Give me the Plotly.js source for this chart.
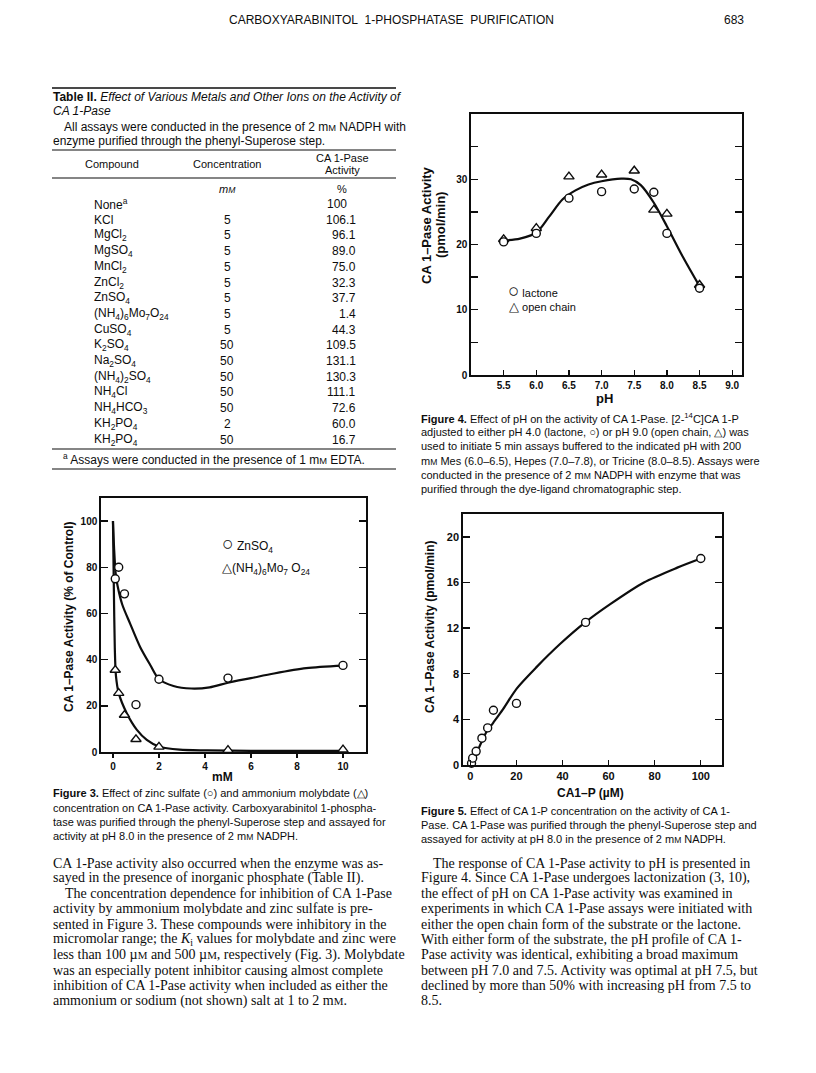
<!DOCTYPE html>
<html><head><meta charset="utf-8">
<script src="https://cdn.plot.ly/plotly-3.0.1.min.js"></script>
<style>html,body{margin:0;padding:0;background:#fff}</style>
</head><body><div id="page" style="width:816px;height:1073px"></div>
<script>
// ---------------- DATA ----------------
// Table II
const compounds = ['None<sup>a</sup>','KCl','MgCl<sub>2</sub>','MgSO<sub>4</sub>','MnCl<sub>2</sub>','ZnCl<sub>2</sub>','ZnSO<sub>4</sub>',
  '(NH<sub>4</sub>)<sub>6</sub>Mo<sub>7</sub>O<sub>24</sub>','CuSO<sub>4</sub>','K<sub>2</sub>SO<sub>4</sub>','Na<sub>2</sub>SO<sub>4</sub>',
  '(NH<sub>4</sub>)<sub>2</sub>SO<sub>4</sub>','NH<sub>4</sub>Cl','NH<sub>4</sub>HCO<sub>3</sub>','KH<sub>2</sub>PO<sub>4</sub>','KH<sub>2</sub>PO<sub>4</sub>'];
const concentrations = ['','5','5','5','5','5','5','5','5','50','50','50','50','50','2','50'];
const activities = ['100','106.1','96.1','89.0','75.0','32.3','37.7','1.4','44.3','109.5','131.1','130.3','111.1','72.6','60.0','16.7'];

// Figure 3: inhibition by ZnSO4 and ammonium molybdate
const fig3_mM = [0.1, 0.25, 0.5, 1, 2, 5, 10];
const fig3_zn = [75, 80, 68.5, 20.5, 31.5, 32, 37.5];
const fig3_mo = [35.5, 25.5, 16, 5.5, 2.2, 0.8, 1.0];
const fig3_znCurveX = [0, 0.05, 0.12, 0.2, 0.4, 0.75, 1.18, 1.62, 2.0, 2.63, 3.4, 4.2, 5.0, 6.0, 7.0, 8.4, 10];
const fig3_znCurveY = [100, 88, 77, 72, 64, 55.5, 45.5, 37.7, 31.5, 28.6, 27.5, 28, 30, 32, 34, 36.3, 37.4];
const fig3_moCurveX = [0, 0.04, 0.08, 0.13, 0.25, 0.6, 1.04, 1.47, 2.0, 2.9, 4.1, 6, 8, 10];
const fig3_moCurveY = [100, 70, 45, 33, 25.5, 16.8, 9.6, 5.3, 2.4, 1.0, 0.7, 0.5, 0.5, 0.5];

// Figure 4: pH profile
const fig4_pH = [5.5, 6.0, 6.5, 7.0, 7.5, 7.8, 8.0, 8.5];
const fig4_lactone = [20.4, 21.7, 27.1, 28.1, 28.5, 28.0, 21.7, 13.3];
const fig4_openChain = [20.8, 22.5, 30.4, 30.7, 31.3, 25.3, 24.7, 13.8];
const fig4_curveX = [5.5, 5.75, 6.0, 6.2, 6.4, 6.6, 6.8, 7.0, 7.3, 7.45, 7.6, 7.8, 8.0, 8.25, 8.5];
const fig4_curveY = [20.6, 20.9, 21.8, 24.3, 26.9, 28.3, 29.2, 29.7, 30.1, 30.0, 29.1, 26.4, 22.8, 18.0, 13.6];
const fig4_xTicks = [5.5, 6.0, 6.5, 7.0, 7.5, 8.0, 8.5, 9.0];
const fig4_xTickText = ['5.5','6.0','6.5','7.0','7.5','8.0','8.5','9.0'];
const fig4_yTicks = [0, 5, 10, 15, 20, 25, 30, 35];
const fig4_yTickText = ['0','','10','','20','','30',''];

// Figure 5: CA 1-P concentration
const fig5_ca1p = [0.5, 1, 2.5, 5, 7.5, 10, 20, 50, 100];
const fig5_act = [0.15, 0.6, 1.2, 2.35, 3.25, 4.8, 5.4, 12.5, 18.1];
const fig5_curveX = [0.5, 2.6, 4.8, 7.0, 9.9, 14.2, 20.1, 28.8, 38.9, 49.8, 60.7, 75.3, 89.8, 100];
const fig5_curveY = [0.15, 1.0, 2.0, 2.9, 3.7, 4.9, 6.7, 8.6, 10.6, 12.5, 14.1, 16.0, 17.3, 18.1];

// ---------------- TEXT ----------------
const SC = s => '<span style="font-size:0.78em">' + s + '</span>';
const GLYPH = (s, em) => '<span style="font-size:' + em + 'em">' + s + '</span>';
const mM = 'm' + SC('M');
const uM = 'µ' + SC('M');
const header = 'CARBOXYARABINITOL&nbsp; 1-PHOSPHATASE&nbsp; PURIFICATION';
const pageNo = '683';
const tableTitle = ['<b>Table II.</b> <i>Effect of Various Metals and Other Ions on the Activity of</i>', '<i>CA 1-Pase</i>'];
const tableNote = ['All assays were conducted in the presence of 2 ' + mM + ' NADPH with', 'enzyme purified through the phenyl-Superose step.'];
const tableFoot = '<sup>a</sup> Assays were conducted in the presence of 1 ' + mM + ' EDTA.';
const fig3Caption = [
  '<b>Figure 3.</b> Effect of zinc sulfate (○) and ammonium molybdate (△)',
  'concentration on CA 1-Pase activity. Carboxyarabinitol 1-phospha-',
  'tase was purified through the phenyl-Superose step and assayed for',
  'activity at pH 8.0 in the presence of 2 ' + mM + ' NADPH.'];
const fig4Caption = [
  '<b>Figure 4.</b> Effect of pH on the activity of CA 1-Pase. [2-<sup>14</sup>C]CA 1-P',
  'adjusted to either pH 4.0 (lactone, ○) or pH 9.0 (open chain, △) was',
  'used to initiate 5 min assays buffered to the indicated pH with 200',
  mM + ' Mes (6.0–6.5), Hepes (7.0–7.8), or Tricine (8.0–8.5). Assays were',
  'conducted in the presence of 2 ' + mM + ' NADPH with enzyme that was',
  'purified through the dye-ligand chromatographic step.'];
const fig5Caption = [
  '<b>Figure 5.</b> Effect of CA 1-P concentration on the activity of CA 1-',
  'Pase. CA 1-Pase was purified through the phenyl-Superose step and',
  'assayed for activity at pH 8.0 in the presence of 2 ' + mM + ' NADPH.'];
const leftBody = [
  'CA 1-Pase activity also occurred when the enzyme was as-',
  'sayed in the presence of inorganic phosphate (Table II).',
  'The concentration dependence for inhibition of CA 1-Pase',
  'activity by ammonium molybdate and zinc sulfate is pre-',
  'sented in Figure 3. These compounds were inhibitory in the',
  'micromolar range; the <i>K</i><sub>i</sub> values for molybdate and zinc were',
  'less than 100 ' + uM + ' and 500 ' + uM + ', respectively (Fig. 3). Molybdate',
  'was an especially potent inhibitor causing almost complete',
  'inhibition of CA 1-Pase activity when included as either the',
  'ammonium or sodium (not shown) salt at 1 to 2 ' + mM + '.'];
const leftIndent = [0,0,1,0,0,0,0,0,0,0];
const rightBody = [
  'The response of CA 1-Pase activity to pH is presented in',
  'Figure 4. Since CA 1-Pase undergoes lactonization (3, 10),',
  'the effect of pH on CA 1-Pase activity was examined in',
  'experiments in which CA 1-Pase assays were initiated with',
  'either the open chain form of the substrate or the lactone.',
  'With either form of the substrate, the pH profile of CA 1-',
  'Pase activity was identical, exhibiting a broad maximum',
  'between pH 7.0 and 7.5. Activity was optimal at pH 7.5, but',
  'declined by more than 50% with increasing pH from 7.5 to',
  '8.5.'];
const rightIndent = [1,0,0,0,0,0,0,0,0,0];

// ---------------- LAYOUT HELPERS ----------------
const W = 816, H = 1073;
const SANS = '"Liberation Sans", Arial, Helvetica, sans-serif';
const SERIF = '"Liberation Serif", "Times New Roman", serif';
const INK = '#0d0d0d';
const ann = [], shapes = [];
function T(x, y, text, o) {
  o = o || {};
  ann.push({xref:'paper', yref:'paper', x:x/W, y:1-y/H, text:text, showarrow:false,
    xanchor:o.anchor||'left', yanchor:'middle', align:o.align||'left', textangle:o.angle||0,
    borderpad:0, font:{family:o.family||SANS, size:o.size||11, color:INK, weight:o.weight||'normal'}});
}
function rule(x0, x1, y, w) {
  shapes.push({type:'line', xref:'paper', yref:'paper', x0:x0/W, x1:x1/W, y0:1-y/H, y1:1-y/H,
    line:{color:INK, width:w}});
}

// header
T(228, 20, header, {size:12});
T(745, 20, pageNo, {size:12, anchor:'right'});

// table
rule(52, 396, 88, 1.5);
T(52, 97, tableTitle[0], {size:12});
T(52, 111, tableTitle[1], {size:12});
T(63, 127, tableNote[0], {size:12});
T(52, 141, tableNote[1], {size:12});
rule(52, 396, 150, 1.2);
T(112, 164, 'Compound', {anchor:'center', size:11});
T(227, 164, 'Concentration', {anchor:'center', size:11});
T(342, 158, 'CA 1-Pase', {anchor:'center', size:11});
T(342, 170, 'Activity', {anchor:'center', size:11});
rule(52, 396, 178, 1.2);
T(227, 189, '<i>' + mM + '</i>', {anchor:'center', size:11});
T(342, 189, '%', {anchor:'center', size:11});
const rowY0 = 204, rowDY = 15.7;
compounds.forEach(function(c, i) {
  const y = rowY0 + i * rowDY;
  T(93, y, c, {size:12});
  if (concentrations[i]) T(227, y, concentrations[i], {anchor:'center', size:12});
  const a = activities[i];
  T(a.indexOf('.') >= 0 ? 357 : 348, y, a, {anchor:'right', size:12});
});
rule(52, 396, 449, 1.2);
T(62, 459, tableFoot, {size:12});
rule(52, 396, 469, 1.2);

// captions and body
fig3Caption.forEach(function(s, i){ T(52, 793 + i*14.5, s, {size:11}); });
fig4Caption.forEach(function(s, i){ T(420, 418 + i*14.2, s, {size:11}); });
fig5Caption.forEach(function(s, i){ T(420, 811 + i*14.2, s, {size:11}); });
leftBody.forEach(function(s, i){ T(52 + leftIndent[i]*12, 863 + i*15.3, s, {family:SERIF, size:14}); });
rightBody.forEach(function(s, i){ T(420 + rightIndent[i]*12, 863 + i*15.3, s, {family:SERIF, size:14}); });

// axis titles and in-plot legends
T(69, 617, 'CA 1–Pase Activity (% of Control)', {anchor:'center', angle:-90, size:12, weight:'bold'});
T(223, 777, 'mM', {anchor:'center', size:12, weight:'bold'});
T(221, 544, GLYPH('○', 1.6) + ' ZnSO<sub>4</sub>', {size:12});
T(221, 568, GLYPH('△', 1.1) + '(NH<sub>4</sub>)<sub>6</sub>Mo<sub>7</sub> O<sub>24</sub>', {size:12});

T(427, 225, 'CA 1–Pase Activity', {anchor:'center', angle:-90, size:13, weight:'bold'});
T(441, 225, '(pmol/min)', {anchor:'center', angle:-90, size:13, weight:'bold'});
T(604, 398, 'pH', {anchor:'center', size:13, weight:'bold'});
T(507, 290, GLYPH('○', 1.7) + ' lactone', {size:11});
T(508, 307, GLYPH('△', 1.15) + ' open chain', {size:11});

T(430, 627, 'CA 1–Pase Activity (pmol/min)', {anchor:'center', angle:-90, size:12, weight:'bold'});
T(590, 793, 'CA1–P (µM)', {anchor:'center', size:12, weight:'bold'});

// ---------------- TRACES ----------------
const LINE = {color:INK, width:2.2, shape:'spline', smoothing:0.8};
const circ = {symbol:'circle', size:8, color:'#fff', line:{color:INK, width:1.4}};
const tri = {symbol:'triangle-up', size:9, color:'#fff', line:{color:INK, width:1.4}};
const traces = [
  {x:fig3_znCurveX, y:fig3_znCurveY, xaxis:'x3', yaxis:'y3', mode:'lines', line:LINE, hoverinfo:'skip'},
  {x:fig3_moCurveX, y:fig3_moCurveY, xaxis:'x3', yaxis:'y3', mode:'lines', line:LINE, hoverinfo:'skip'},
  {x:fig3_mM, y:fig3_zn, xaxis:'x3', yaxis:'y3', mode:'markers', marker:circ, cliponaxis:false, name:'ZnSO4'},
  {x:fig3_mM, y:fig3_mo, xaxis:'x3', yaxis:'y3', mode:'markers', marker:tri, cliponaxis:false, name:'(NH4)6Mo7O24'},
  {x:fig4_curveX, y:fig4_curveY, xaxis:'x', yaxis:'y', mode:'lines', line:LINE, hoverinfo:'skip'},
  {x:fig4_pH, y:fig4_openChain, xaxis:'x', yaxis:'y', mode:'markers', marker:tri, cliponaxis:false, name:'open chain'},
  {x:fig4_pH, y:fig4_lactone, xaxis:'x', yaxis:'y', mode:'markers', marker:circ, cliponaxis:false, name:'lactone'},
  {x:fig5_curveX, y:fig5_curveY, xaxis:'x2', yaxis:'y2', mode:'lines', line:LINE, hoverinfo:'skip'},
  {x:fig5_ca1p, y:fig5_act, xaxis:'x2', yaxis:'y2', mode:'markers', marker:circ, cliponaxis:false, name:'CA 1-P'}
];

function axis(o) {
  return Object.assign({showline:true, linecolor:INK, linewidth:1.7, showgrid:false, zeroline:false,
    tickcolor:INK, tickwidth:1.4, fixedrange:true,
    tickfont:{family:SANS, size:10, color:INK, weight:'bold'}}, o);
}
const layout = {
  width:W, height:H, autosize:false, margin:{l:0, r:0, t:0, b:0},
  paper_bgcolor:'#fff', plot_bgcolor:'rgba(0,0,0,0)', showlegend:false,
  // Figure 4
  xaxis: axis({domain:[471/W, 742/W], range:[5.0, 9.15], tickvals:fig4_xTicks, ticktext:fig4_xTickText,
    ticks:'inside', ticklen:5, mirror:true, anchor:'y'}),
  yaxis: axis({domain:[1-375/H, 1-114/H], range:[0, 40], tickvals:fig4_yTicks, ticktext:fig4_yTickText,
    ticks:'inside', ticklen:7, mirror:'ticks', anchor:'x'}),
  // Figure 5
  xaxis2: axis({domain:[463/W, 722/W], range:[-3.2, 109.2], tickvals:[0,20,40,60,80,100],
    ticks:'inside', ticklen:5, mirror:true, anchor:'y2', tickfont:{family:SANS, size:11, color:INK, weight:'bold'}}),
  yaxis2: axis({domain:[1-765/H, 1-514/H], range:[0, 22], tickvals:[0,4,8,12,16,20],
    ticks:'inside', ticklen:7, mirror:'ticks', anchor:'x2', tickfont:{family:SANS, size:11, color:INK, weight:'bold'}}),
  // Figure 3
  xaxis3: axis({domain:[101/W, 366/W], range:[-0.52, 11], tickvals:[0,2,4,6,8,10],
    ticks:'outside', ticklen:4, mirror:true, anchor:'y3'}),
  yaxis3: axis({domain:[1-752/H, 1-498/H], range:[0, 110], tickvals:[0,20,40,60,80,100],
    ticks:'inside', ticklen:7, mirror:'ticks', anchor:'x3'}),
  annotations: ann, shapes: shapes
};
Plotly.newPlot('page', traces, layout, {staticPlot:true, displayModeBar:false});
</script></body></html>
